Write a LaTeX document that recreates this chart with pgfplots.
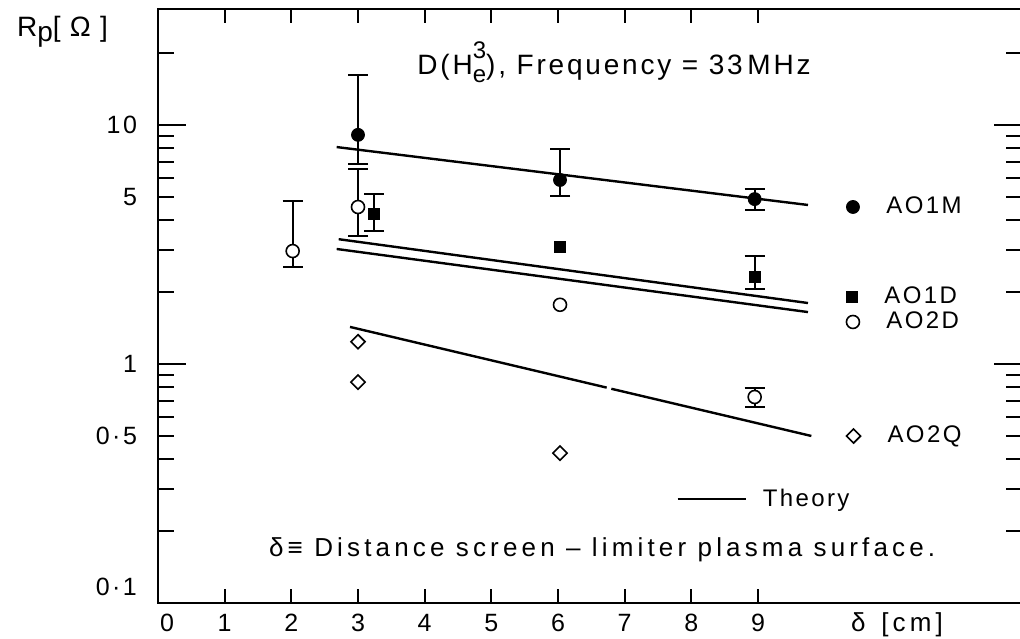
\documentclass[border=0pt]{standalone}
\usepackage{pgfplots}
\pgfplotsset{compat=1.18}
\usepackage{fontspec}
\setmainfont{Liberation Sans}
\newfontfamily\spaced[LetterSpace=10]{Liberation Sans}
\newfontfamily\widespaced[LetterSpace=16]{Liberation Sans}
\usetikzlibrary{calc}

\begin{document}
\begin{tikzpicture}
% frame, x ticks, 0.1 label
\begin{axis}[scale only axis, width=432pt, height=297pt,
  xmin=0, xmax=12.96, ymode=log, ymin=0.1, ymax=30.6, clip=false,
  axis line style={line width=1.3pt},
  tick align=inside,
  major tick length=7pt,
  xtick={0,1,...,9},
  xticklabels={\hspace*{9pt}0,1,2,3,4,5,6,7,8,9},
  ytick={0.1}, yticklabels={0·1},
  yminorticks=false,
  tick style={line width=1pt, black},
  yticklabel style={yshift=8pt, xshift=-7pt},
  xticklabel style={yshift=-2pt},
  tick label style={font=\spaced\fontsize{12.5}{14}\selectfont},
]
\coordinate (SW) at (rel axis cs:0,0);
\coordinate (NE) at (rel axis cs:1,1);
\node[anchor=base, font=\spaced\fontsize{14}{16}\selectfont] at (axis description cs:0.5278,0.8889)
  {D(H\makebox[0pt][l]{\raisebox{1.1ex}{\fontsize{12}{14}\selectfont 3}}\raisebox{-0.5ex}{\fontsize{12}{14}\selectfont e}), Frequency = 33\,MHz};
\node[anchor=base west, font=\spaced\fontsize{14}{16}\selectfont] at (axis description cs:-0.1713,0.9545)
  {R\raisebox{-0.4ex}{p}[\,\,Ω\,\,]};
\node[anchor=base west, font=\widespaced\fontsize{13}{15}\selectfont] at (axis description cs:0.1204,0.0775)
  {δ≡ Distance screen – limiter plasma surface.};
\node[anchor=base, font=\widespaced\fontsize{13}{15}\selectfont] at (axis description cs:0.8553,-0.0488)
  {δ\, [cm]};
\end{axis}

% y ticks
\begin{axis}[scale only axis, width=432pt, height=297pt,
  xmin=0, xmax=12.96, ymode=log, ymin=0.1, ymax=30.6,
  axis line style={draw=none},
  xtick=\empty,
  tick align=inside,
  ytick={1,10}, yticklabels={1,10},
  minor ytick={0.2,0.3,0.4,0.5,0.6,0.7,0.8,0.9,2,3,4,5,6,7,8,9,20},
  major tick length=14pt, minor tick length=8pt,
  extra y ticks={0.5,5}, extra y tick labels={0·5,5},
  extra y tick style={major tick length=0pt},
  tick style={line width=1pt, black},
  yticklabel style={xshift=-7pt},
  tick label style={font=\spaced\fontsize{12.5}{14}\selectfont},
]
\end{axis}

% AO1M
\begin{axis}[scale only axis, width=432pt, height=297pt,
  xmin=0, xmax=12.96, ymode=log, ymin=0.1, ymax=30.6, hide axis, clip=false,
  legend style={draw=none, fill=none, at={(0.7894,0.6667)}, anchor=west,
    font=\spaced\fontsize{12}{14}\selectfont,
    /tikz/every odd column/.append style={column sep=11.5pt}}]
\addplot[only marks, mark=*, mark size=3.25pt, black,
  error bars/.cd, y dir=both, y explicit,
  error bar style={line width=1pt},
  error mark options={rotate=90, mark size=5pt, line width=1.2pt}] coordinates {
  (3,9.1) += (0,7.1) -= (0,2.23)
  (6.03,5.89) += (0,2.05) -= (0,0.84)
  (8.95,4.90) += (0,0.50) -= (0,0.49)
};
\addlegendentry{AO1M}
\end{axis}

% AO1D
\begin{axis}[scale only axis, width=432pt, height=297pt,
  xmin=0, xmax=12.96, ymode=log, ymin=0.1, ymax=30.6, hide axis, clip=false,
  legend style={draw=none, fill=none, at={(0.7894,0.5152)}, anchor=west,
    font=\spaced\fontsize{12}{14}\selectfont,
    /tikz/every odd column/.append style={column sep=11.5pt}}]
\addplot[only marks, mark=square*, mark size=2.75pt, black,
  error bars/.cd, y dir=both, y explicit,
  error bar style={line width=1pt},
  error mark options={rotate=90, mark size=5pt, line width=1.2pt}] coordinates {
  (3.24,4.24) += (0,0.91) -= (0,0.64)
  (8.95,2.31) += (0,0.52) -= (0,0.25)
};
\addlegendentry{AO1D}
\addplot[only marks, mark=square*, mark size=2.75pt, black, forget plot] coordinates {
  (6.03,3.09)
};
\end{axis}

% AO2D
\begin{axis}[scale only axis, width=432pt, height=297pt,
  xmin=0, xmax=12.96, ymode=log, ymin=0.1, ymax=30.6, hide axis, clip=false,
  legend style={draw=none, fill=none, at={(0.7894,0.4731)}, anchor=west,
    font=\spaced\fontsize{12}{14}\selectfont,
    /tikz/every odd column/.append style={column sep=11.5pt}}]
\addplot[only marks, mark=*, mark size=3.25pt, black, mark options={fill=white, line width=0.8pt},
  error bars/.cd, y dir=both, y explicit,
  error bar style={line width=1pt},
  error mark options={rotate=90, mark size=5pt, line width=1.2pt}] coordinates {
  (2.02,2.97) += (0,1.84) -= (0,0.42)
  (3,4.54) += (0,2.01) -= (0,1.11)
  (8.95,0.728) += (0,0.065) -= (0,0.067)
};
\addlegendentry{AO2D}
\addplot[only marks, mark=*, mark size=3.25pt, black, mark options={fill=white, line width=0.8pt}, forget plot] coordinates {
  (6.03,1.77)
};
\end{axis}

% AO2Q
\begin{axis}[scale only axis, width=432pt, height=297pt,
  xmin=0, xmax=12.96, ymode=log, ymin=0.1, ymax=30.6, hide axis, clip=false,
  legend style={draw=none, fill=none, at={(0.7894,0.2811)}, anchor=west,
    font=\spaced\fontsize{12}{14}\selectfont,
    /tikz/every odd column/.append style={column sep=11.5pt}}]
\addplot[only marks, mark=square, mark size=2.5pt, black, mark options={rotate=45, line width=0.8pt}] coordinates {
  (3,1.24) (3,0.84) (6.03,0.424)
};
\addlegendentry{AO2Q}
\end{axis}

% Theory
\begin{axis}[scale only axis, width=432pt, height=297pt,
  xmin=0, xmax=12.96, ymode=log, ymin=0.1, ymax=30.6, hide axis, clip=false,
  legend style={draw=none, fill=none, at={(0.5926,0.1750)}, anchor=west,
    font=\spaced\fontsize{12}{14}\selectfont,
    /tikz/every odd column/.append style={column sep=6pt}},
  legend image code/.code={\draw[#1] (0pt,0pt) -- (34pt,0pt);}]
\addplot[black, line width=1.2pt] coordinates {(2.68,8.09) (9.75,4.63)};
\addlegendentry{Theory}
\addplot[black, line width=1.2pt, forget plot] coordinates {(2.71,3.33) (9.75,1.80)};
\addplot[black, line width=1.2pt, forget plot] coordinates {(2.68,3.03) (9.75,1.65)};
\addplot[black, line width=1.2pt, forget plot] coordinates {(2.88,1.43) (6.73,0.797)};
\addplot[black, line width=1.2pt, forget plot] coordinates {(6.80,0.788) (9.80,0.50)};
\end{axis}

\pgfresetboundingbox
\path[use as bounding box] ($(SW)+(-79pt,-18pt)$) rectangle ($(NE)+(-1pt,4.5pt)$);
\end{tikzpicture}
\end{document}
